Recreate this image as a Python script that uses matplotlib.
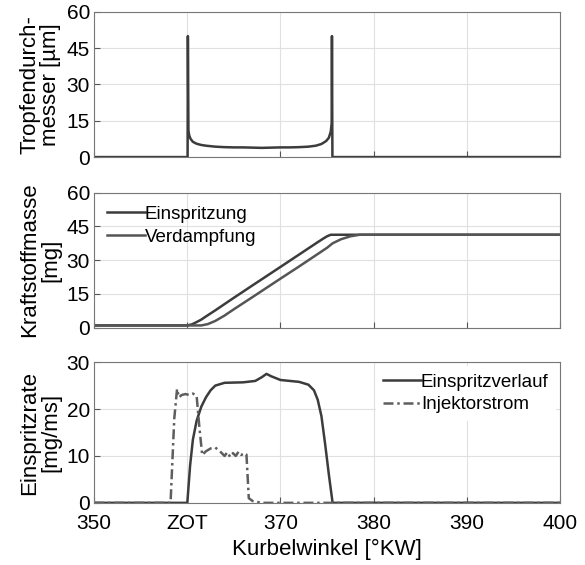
import numpy as np
import matplotlib.pyplot as plt

plt.rcParams['font.family'] = ['Liberation Sans', 'DejaVu Sans']
plt.rcParams['font.size'] = 15

# Tropfendurchmesser [um]
x_tropfen = [350, 360.03, 360.06, 360.12, 360.2, 360.35, 360.6, 361, 361.5, 362, 363, 364, 365, 366,
             367, 368, 369, 370, 371, 372, 373, 373.8, 374.4, 374.9, 375.2, 375.4, 375.5, 375.53, 375.58, 400]
y_tropfen = [0, 0, 50, 11, 9, 7.5, 6.3, 5.5, 5.0, 4.7, 4.3, 4.1, 4.0, 4.0,
             3.9, 3.8, 3.9, 4.0, 4.0, 4.1, 4.3, 4.7, 5.4, 6.6, 8.0, 10.5, 14, 50, 0, 0]

# Kraftstoffmasse [mg]
x_einspr = [350, 360.0, 360.5, 361, 361.5, 362, 363, 365, 367, 370, 372, 374, 374.6, 375.0, 375.4, 400]
y_einspr = [1.0, 1.0, 1.5, 2.5, 3.6, 5.0, 7.7, 13.3, 18.8, 27.0, 32.5, 38.0, 39.6, 40.6, 41.3, 41.3]
x_verd = [350, 361.5, 362.2, 363, 364, 365, 367, 370, 372, 375, 375.6, 376.5, 377.5, 378.5, 400]
y_verd = [1.0, 1.0, 1.6, 3.0, 5.4, 8.2, 13.6, 21.8, 27.2, 35.5, 37.5, 39.3, 40.6, 41.3, 41.3]

# Einspritzrate [mg/ms]
x_verlauf = [350, 360.0, 360.3, 360.6, 361, 361.5, 362, 362.5, 363, 364, 366, 367.3, 368, 368.5,
             369, 370, 371, 372, 373, 373.6, 374.0, 374.4, 374.8, 375.2, 375.6, 400]
y_verlauf = [0, 0, 8, 13.5, 17.5, 20.5, 22.5, 24.0, 25.0, 25.6, 25.7, 26.0, 26.8, 27.5,
             27.0, 26.2, 26.0, 25.8, 25.2, 24.0, 22.0, 18.5, 12.5, 6.0, 0, 0]
x_strom = [350, 358.2, 358.6, 358.9, 359.1, 359.4, 359.8, 360.2, 360.6, 361.0, 361.3, 361.6, 362.0,
           362.5, 363.0, 363.5, 364.0, 364.3, 364.6, 364.9, 365.2, 365.5, 365.8, 366.1, 366.35,
           366.6, 367.0, 367.5, 368.0, 400]
y_strom = [0, 0, 18, 24.3, 22.5, 23.0, 23.2, 23.0, 23.3, 22.8, 16.0, 10.2, 11.0,
           11.6, 11.8, 11.0, 10.0, 10.8, 9.8, 10.6, 10.0, 10.9, 10.2, 10.6, 10.3,
           1.0, 0.4, 0.2, 0, 0]

c_dark = '#3c3c3c'
c_mid = '#555555'
c_dash = '#5e5e5e'
grid_c = '#e0e0e0'

fig = plt.figure(figsize=(5.85, 5.65), dpi=100)
ax1 = fig.add_axes([0.161, 0.722, 0.796, 0.257])
ax2 = fig.add_axes([0.161, 0.420, 0.796, 0.239])
ax3 = fig.add_axes([0.161, 0.110, 0.796, 0.249])

for ax in (ax1, ax2, ax3):
    ax.set_xlim(350, 400)
    ax.set_xticks([350, 360, 370, 380, 390, 400])
    ax.grid(True, color=grid_c, lw=0.8)
    ax.set_axisbelow(True)
    ax.tick_params(direction='in', length=4, color='#555555', labelsize=15, pad=3)
    ax.tick_params(axis='x', pad=8)
    for s in ax.spines.values():
        s.set_color('#777777')
        s.set_linewidth(0.8)

ax1.plot(x_tropfen, y_tropfen, color=c_dark, lw=1.8)
ax1.set_ylim(0, 60)
ax1.set_yticks([0, 15, 30, 45, 60])
ax1.set_xticklabels([])
ax1.set_ylabel('Tropfendurch-\nmesser [µm]', fontsize=16, linespacing=1.0, labelpad=4)

ax2.plot(x_einspr, y_einspr, color=c_dark, lw=1.8, label='Einspritzung')
ax2.plot(x_verd, y_verd, color=c_mid, lw=1.8, label='Verdampfung')
ax2.set_ylim(0, 60)
ax2.set_yticks([0, 15, 30, 45, 60])
ax2.set_xticklabels([])
ax2.set_ylabel('Kraftstoffmasse\n[mg]', fontsize=16, linespacing=1.0, labelpad=4)
ax2.legend(loc='upper left', frameon=False, fontsize=13.5, handlelength=2.0,
           handletextpad=0.0, labelspacing=0.3, borderaxespad=0.3)

ax3.plot(x_verlauf, y_verlauf, color=c_dark, lw=1.8, label='Einspritzverlauf')
ax3.plot(x_strom, y_strom, color=c_dash, lw=1.8, ls=(0, (4, 1.5, 1, 1.5)), label='Injektorstrom')
ax3.set_ylim(0, 30)
ax3.set_yticks([0, 10, 20, 30])
ax3.set_xticklabels(['350', 'ZOT', '370', '380', '390', '400'])
ax3.set_ylabel('Einspritzrate\n[mg/ms]', fontsize=16, linespacing=1.0, labelpad=4)
ax3.set_xlabel('Kurbelwinkel [°KW]', fontsize=16, labelpad=4)
leg = ax3.legend(loc='upper right', frameon=True, fontsize=13.5, handlelength=2.0,
                 handletextpad=0.0, labelspacing=0.3, borderaxespad=0.2, fancybox=False)
leg.get_frame().set_edgecolor('none')
leg.get_frame().set_facecolor('white')
leg.get_frame().set_alpha(1.0)

fig.savefig('out.png', dpi=100)
